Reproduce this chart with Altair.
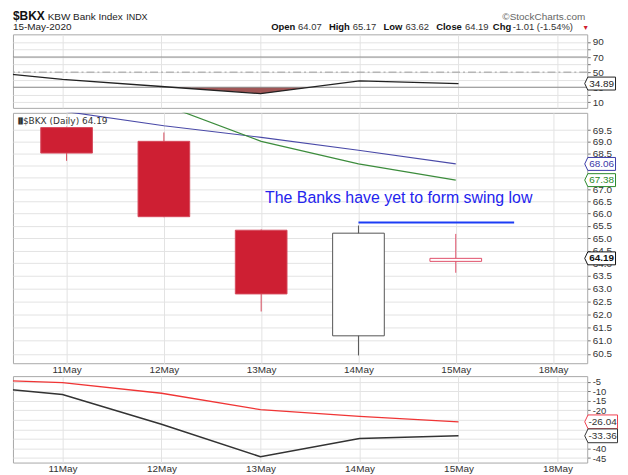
import altair as alt
import pandas as pd

# ------------------------------------------------------------------ data
date_labels = ["11May", "12May", "13May", "14May", "15May", "18May"]
date_pos = [0, 1, 2, 3, 4, 5]

candle_pos = [0, 1, 2, 3, 4]
opens = [69.61, 69.02, 65.32, 61.18, 64.07]
highs = [69.65, 69.40, 65.35, 65.51, 65.17]
lows = [68.19, 65.85, 62.11, 60.44, 63.62]
closes = [68.52, 65.87, 62.79, 65.20, 64.19]

ma_pos = [0, 1, 2, 3, 4]
ma_blue = [70.30, 69.69, 69.19, 68.64, 68.06]
ma_green = [71.80, 70.60, 69.02, 68.06, 67.38]

ind_pos = [-1, 0, 1, 2, 3, 4]
rsi_vals = [53.5, 40.5, 31.0, 21.5, 38.5, 34.89]
osc_black = [-6.85, -11.75, -27.3, -44.3, -34.8, -33.36]
osc_red = [-3.7, -5.5, -11.1, -19.7, -23.2, -26.04]

rsi_grid = [10, 20, 30, 40, 50, 60, 70, 80, 90]
rsi_solid_levels = [70, 30]
rsi_mid_level = [50]
rsi_oversold = 30
price_ticks = [60.5, 61.0, 61.5, 62.0, 62.5, 63.0, 63.5, 64.0, 64.5, 65.0,
               65.5, 66.0, 66.5, 67.0, 67.5, 68.0, 68.5, 69.0, 69.5]
osc_ticks = [-45, -40, -35, -30, -25, -20, -15, -10, -5]

note_text = ["The Banks have yet to form swing low"]
note_pos = [2.04]
note_val = [66.64]
swing_pos = [3.0, 4.6]
swing_val = [65.63, 65.63]

header_sym = "$BKX"
header_name = "KBW Bank Index"
header_exch = "INDX"
header_date = "15-May-2020"
header_site = "\u00a9StockCharts.com"
ohlc_words = ["Open", "High", "Low", "Close", "Chg"]
ohlc_values = ["64.07", "65.17", "63.62", "64.19", "-1.01 (-1.54%)"]

# ------------------------------------------------------------------ style
W = 578
H_RSI = 74
H_PRICE = 252
H_OSC = 87
FONT = "Liberation Sans"
GRID = "#e3e3e3"
BOX_PATH = "M -1 0 L -0.8 -0.42 L 1 -0.42 L 1 0.42 L -0.8 0.42 Z"

x_scale = alt.Scale(domain=[-0.5, 5.3], nice=False, zero=False)
lab_expr = "[" + ",".join("'%s'" % d for d in date_labels) + "][datum.value]"
ax_x_lab = alt.Axis(values=date_pos, labelExpr=lab_expr, grid=True, gridColor=GRID,
                    ticks=False, domain=False, labelPadding=1, labelFlush=False, title=None)
ax_x_none = alt.Axis(values=date_pos, labels=False, grid=True, gridColor=GRID,
                     ticks=False, domain=False, title=None)


def xq(axis):
    return alt.X("pos:Q", scale=x_scale, axis=axis)


def value_box(df, y_enc, border, text_color, bold=False, size=961, cx=W + 13):
    box = alt.Chart(df).mark_point(
        shape=BOX_PATH, size=size, filled=True, fill="white", stroke=border,
        strokeWidth=1, opacity=1, fillOpacity=1, strokeOpacity=1
    ).encode(x=alt.value(cx), y=y_enc)
    txt = alt.Chart(df).mark_text(
        font=FONT, fontSize=10, fontWeight="bold" if bold else "normal",
        color=text_color, align="center", baseline="middle"
    ).encode(x=alt.value(cx + 1.5), y=y_enc, text="label:N")
    return box + txt


# ------------------------------------------------------------------ RSI panel
rsi_scale = alt.Scale(domain=[2.7, 100], nice=False, zero=False)
rsi_axis = alt.Axis(orient="right", values=rsi_grid,
                    labelExpr="datum.value % 20 == 10 ? datum.label : ''",
                    grid=True, gridColor=GRID, tickSize=3, domain=False,
                    title=None, labelPadding=2, labelOverlap=False)


def yr(f):
    return alt.Y(f, scale=rsi_scale, axis=rsi_axis)


rsi_df = pd.DataFrame({"pos": ind_pos, "v": rsi_vals})
fill_rows = []
for i in range(len(ind_pos)):
    p, v = ind_pos[i], rsi_vals[i]
    if i > 0:
        p0, v0 = ind_pos[i - 1], rsi_vals[i - 1]
        if (v0 - rsi_oversold) * (v - rsi_oversold) < 0:
            t = (v0 - rsi_oversold) / (v0 - v)
            fill_rows.append({"pos": p0 + t * (p - p0), "v": rsi_oversold})
    fill_rows.append({"pos": p, "v": min(v, rsi_oversold)})
fill_df = pd.DataFrame(fill_rows)

rsi_fill = alt.Chart(fill_df).mark_area(color="#a05656", clip=True, opacity=1).encode(
    x=xq(ax_x_none), y=yr("v:Q"), y2=alt.datum(rsi_oversold))
rsi_solid = alt.Chart(pd.DataFrame({"v": rsi_solid_levels})).mark_rule(
    color="#8a8a8a", strokeWidth=1).encode(y=yr("v:Q"))
rsi_mid = alt.Chart(pd.DataFrame({"v": rsi_mid_level})).mark_rule(
    color="#9a9a9a", strokeWidth=1, strokeDash=[8, 3, 2, 3]).encode(y=yr("v:Q"))
rsi_line = alt.Chart(rsi_df).mark_line(color="#222222", strokeWidth=1.3, clip=True).encode(
    x=xq(ax_x_none), y=yr("v:Q"))
rsi_box = value_box(pd.DataFrame({"v": [rsi_vals[-1]], "label": ["%.2f" % rsi_vals[-1]]}),
                    yr("v:Q"), "#222222", "#222222")

one = pd.DataFrame({"a": [0]})


def htext(text, x, y, size=10, bold=False, color="#222222", align="left"):
    return alt.Chart(one).mark_text(
        text=text, font=FONT, fontSize=size, fontWeight="bold" if bold else "normal",
        color=color, align=align, baseline="top"
    ).encode(x=alt.value(x), y=alt.value(y))


L1 = -23
L2 = -12
header = [
    htext(header_sym, 0, L1, size=12, bold=True, color="#111111"),
    htext(header_name, 35, L1 + 1, size=10),
    htext(header_exch, 114, L1 + 2, size=9),
    htext(header_site, 576, L1 + 1, size=10, color="#666666", align="right"),
    htext(header_date, 0, L2, size=10),
]
words_x = [260, 318, 373, 426, 483]
values_x = [287, 342, 395, 455, 503]
for wd, wx in zip(ohlc_words, words_x):
    header.append(htext(wd, wx, L2, size=9.5, bold=True, color="#111111"))
for vv, vx in zip(ohlc_values, values_x):
    header.append(htext(vv, vx, L2, size=9.5, color="#333333"))
header.append(htext("\u25bc", 573, L2 + 2, size=7, color="#d02030"))

rsi_chart = alt.layer(rsi_fill, rsi_solid, rsi_mid, rsi_line, rsi_box, *header).properties(
    width=W, height=H_RSI)

# ------------------------------------------------------------------ price panel
price_scale = alt.Scale(type="log", domain=[60.15, 70.25], nice=False, zero=False)
price_axis = alt.Axis(orient="right", values=price_ticks, format=".1f", grid=True,
                      gridColor=GRID, tickSize=3, domain=False, title=None, labelPadding=2,
                      labelOverlap=False)


def yp(f):
    return alt.Y(f, scale=price_scale, axis=price_axis)


kinds = []
for i in range(len(candle_pos)):
    if closes[i] < opens[i]:
        kinds.append("down")
    elif i > 0 and closes[i] < closes[i - 1]:
        kinds.append("up_red")
    else:
        kinds.append("up")
cdf = pd.DataFrame({"pos": candle_pos, "open": opens, "high": highs, "low": lows,
                    "close": closes, "kind": kinds})
kind_domain = ["down", "up", "up_red"]
stroke_scale = alt.Scale(domain=kind_domain, range=["#d64a5c", "#555555", "#e0506a"])
fill_scale = alt.Scale(domain=kind_domain, range=["#ce1f33", "#ffffff", "#ffffff"])

wicks = alt.Chart(cdf).mark_rule(strokeWidth=1, clip=True).encode(
    x=xq(ax_x_lab), y=yp("low:Q"), y2="high:Q",
    stroke=alt.Stroke("kind:N", scale=stroke_scale, legend=None))
bodies = alt.Chart(cdf).mark_bar(size=52, strokeWidth=1, clip=True).encode(
    x=xq(ax_x_lab), y=yp("open:Q"), y2="close:Q",
    fill=alt.Fill("kind:N", scale=fill_scale, legend=None),
    stroke=alt.Stroke("kind:N", scale=stroke_scale, legend=None))
blue_line = alt.Chart(pd.DataFrame({"pos": ma_pos, "v": ma_blue})).mark_line(
    color="#4a4aa8", strokeWidth=1.2, clip=True).encode(x=xq(ax_x_lab), y=yp("v:Q"))
green_line = alt.Chart(pd.DataFrame({"pos": ma_pos, "v": ma_green})).mark_line(
    color="#3c8c3c", strokeWidth=1.2, clip=True).encode(x=xq(ax_x_lab), y=yp("v:Q"))
note = alt.Chart(pd.DataFrame({"pos": note_pos, "v": note_val, "t": note_text})).mark_text(
    font=FONT, fontSize=16, color="#2424ee", align="left", baseline="middle").encode(
    x=xq(ax_x_lab), y=yp("v:Q"), text="t:N")
swing = alt.Chart(pd.DataFrame({"pos": swing_pos, "v": swing_val})).mark_line(
    color="#1c3cf5", strokeWidth=2).encode(x=xq(ax_x_lab), y=yp("v:Q"))
legend_icon = alt.Chart(one).mark_text(
    text="\u2590\u258c", font="DejaVu Sans", fontSize=6, color="#333333",
    align="left", baseline="middle").encode(x=alt.value(3), y=alt.value(8))
legend_txt = alt.Chart(one).mark_text(
    text="%s (Daily) %.2f" % (header_sym, closes[-1]), font="DejaVu Sans", fontSize=9,
    color="#333333", align="left", baseline="middle").encode(x=alt.value(10), y=alt.value(8))
box_blue = value_box(pd.DataFrame({"v": [ma_blue[-1]], "label": ["%.2f" % ma_blue[-1]]}),
                     yp("v:Q"), "#3a3aa8", "#3a3aa8")
box_green = value_box(pd.DataFrame({"v": [ma_green[-1]], "label": ["%.2f" % ma_green[-1]]}),
                      yp("v:Q"), "#2a8a2a", "#2a8a2a")
box_close = value_box(pd.DataFrame({"v": [closes[-1]], "label": ["%.2f" % closes[-1]]}),
                      yp("v:Q"), "#111111", "#111111", bold=True)

price_chart = alt.layer(wicks, bodies, blue_line, green_line, note, swing, legend_icon,
                        legend_txt, box_blue, box_green, box_close).properties(
    width=W, height=H_PRICE)

# ------------------------------------------------------------------ oscillator panel
osc_scale = alt.Scale(domain=[-47.34, -2.14], nice=False, zero=False)
osc_axis = alt.Axis(orient="right", values=osc_ticks, labelExpr="'' + datum.value",
                    grid=True, gridColor=GRID, tickSize=3, domain=False, title=None,
                    labelPadding=2, labelOverlap=False, labelFontSize=9.5)


def yo(f):
    return alt.Y(f, scale=osc_scale, axis=osc_axis)


red_line = alt.Chart(pd.DataFrame({"pos": ind_pos, "v": osc_red})).mark_line(
    color="#f03535", strokeWidth=1.3, clip=True).encode(x=xq(ax_x_lab), y=yo("v:Q"))
black_line = alt.Chart(pd.DataFrame({"pos": ind_pos, "v": osc_black})).mark_line(
    color="#333333", strokeWidth=1.6, clip=True).encode(x=xq(ax_x_lab), y=yo("v:Q"))
box_red = value_box(pd.DataFrame({"v": [osc_red[-1]], "label": ["%.2f" % osc_red[-1]]}),
                    yo("v:Q"), "#f04050", "#333333", size=1089, cx=W + 14)
box_black = value_box(pd.DataFrame({"v": [osc_black[-1]], "label": ["%.2f" % osc_black[-1]]}),
                      yo("v:Q"), "#333333", "#333333", size=1089, cx=W + 14)

osc_chart = alt.layer(red_line, black_line, box_red, box_black).properties(width=W, height=H_OSC)

# ------------------------------------------------------------------ assemble
chart = alt.vconcat(
    alt.vconcat(rsi_chart, price_chart, spacing=3),
    osc_chart,
    spacing=0,
).properties(
    padding={"left": 4, "top": 0, "right": 0, "bottom": 0},
    background="white",
).configure_view(
    stroke="#a8a8a8", strokeWidth=1
).configure_axis(
    labelFont=FONT, labelFontSize=10, labelColor="#333333", tickColor="#777777", zindex=0
)

chart.save("out.html", embed_options={"renderer": "svg", "actions": False})
